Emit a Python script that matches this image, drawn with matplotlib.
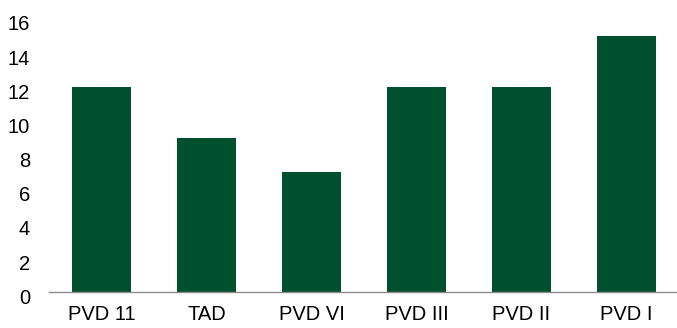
import matplotlib
matplotlib.use("Agg")
import matplotlib.pyplot as plt
import matplotlib.transforms as mtransforms

categories = ["PVD 11", "TAD", "PVD VI", "PVD III", "PVD II", "PVD I"]
values = [12, 9, 7, 12, 12, 15]
yticks = [0, 2, 4, 6, 8, 10, 12, 14, 16]

plt.rcParams['font.family'] = ['Liberation Sans', 'DejaVu Sans']

fig = plt.figure(figsize=(6.77, 3.28), dpi=100)
W, H = 677, 328
ax = fig.add_axes([49 / W, (H - 292) / H, (679 - 49) / W, (292 - 18.7) / H])

x = range(len(categories))
ax.bar(x, values, width=0.57, color="#005030", edgecolor="none", zorder=2)

ax.set_xlim(-0.5, len(categories) - 0.5)
ax.set_ylim(0, 16)
ax.set_yticks(yticks)
ax.set_yticklabels([str(v) for v in yticks])
ax.set_xticks(list(x))
ax.set_xticklabels(categories)

for s in ["top", "right", "left"]:
    ax.spines[s].set_visible(False)
ax.spines["bottom"].set_color("#8c8c8c")
ax.spines["bottom"].set_linewidth(1.0)

ax.tick_params(axis="y", length=0, labelsize=14.5, colors="#000000", pad=13.7)
ax.tick_params(axis="x", length=0, labelsize=14.5, colors="#000000", pad=9.5)

# nudge value labels slightly below their gridline position
shift = mtransforms.ScaledTranslation(0, -3 / 72, fig.dpi_scale_trans)
for lbl in ax.get_yticklabels():
    lbl.set_transform(lbl.get_transform() + shift)

fig.savefig("out.png", dpi=100)
